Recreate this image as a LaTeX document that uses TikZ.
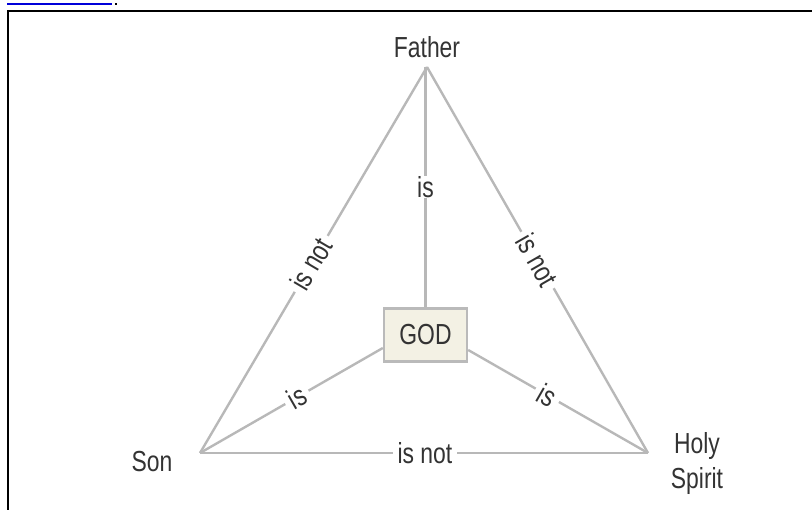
\documentclass[tikz,border=0pt]{standalone}
\usepackage{fontspec}
\setmainfont{Liberation Sans}[FakeStretch=0.79]
\begin{document}
\begin{tikzpicture}[x=1pt,y=-1pt,
  edge/.style={draw=black!28, line width=2.4pt},
  lbl/.style={fill=white, text=black!80, font=\fontsize{29}{35}\selectfont, inner xsep=5pt, inner ysep=0pt},
  vname/.style={text=black!80, font=\fontsize{29}{35}\selectfont, align=center, inner sep=0pt},
  godbox/.style={draw=black!27, line width=2.4pt, fill=beige, text=black!80, minimum width=83pt, minimum height=53pt, inner sep=0pt, font=\fontsize{29}{35}\selectfont}]
\definecolor{beige}{HTML}{F3F1E4}
\useasboundingbox (0,0) rectangle (812,510);
% frame and cut-off link underline
\draw[line width=2.2pt] (8.3,510) -- (8.3,10.7) -- (812,10.7);
\fill[blue!85!black] (7,3.3) rectangle (112,5.3);
\fill[black] (115,3) rectangle (117,5);
% vertices
\coordinate (F) at (427,67);
\coordinate (S) at (200,453);
\coordinate (H) at (648,453);
\node[vname] (father) at (427,47) {Father};
\node[vname] (son) at (152,462) {Son};
\node[vname] (holy) at (697,464) {Holy\\Spirit};
% triangle
\draw[edge] (F) -- node[lbl, sloped, pos=0.51] {is not} (S);
\draw[edge] (F) -- node[lbl, sloped, pos=0.5] {is not} (H);
\draw[edge] (S) -- node[lbl, pos=0.502] {is not} (H);
% GOD
\node[godbox] (god) at (425.5,335) {GOD};
\draw[edge] (F -| god.north) -- node[lbl, pos=0.5] {is} (god.north);
\draw[edge] ([yshift=-13pt]god.west) -- node[lbl, sloped, pos=0.47] {is} (S);
\draw[edge] ([yshift=-15pt]god.east) -- node[lbl, sloped, pos=0.44] {is} (H);
\end{tikzpicture}
\end{document}
